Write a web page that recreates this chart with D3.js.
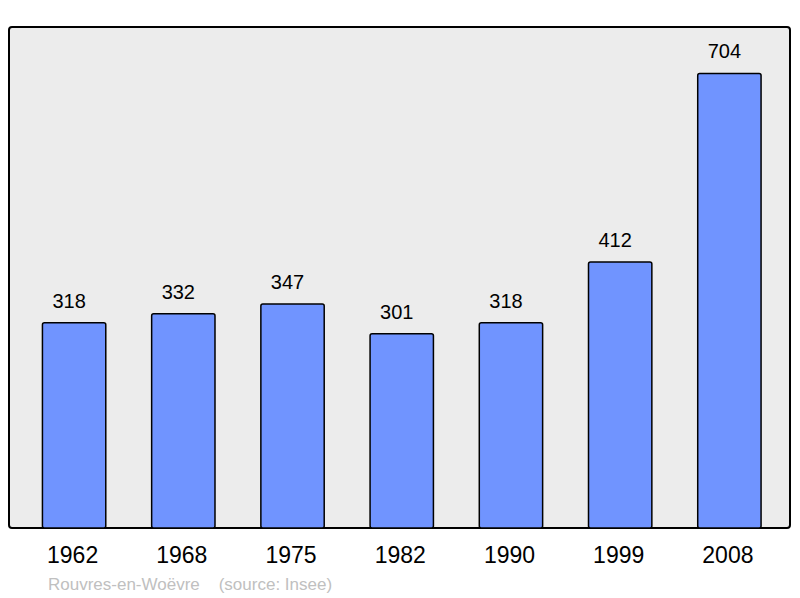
<!DOCTYPE html>
<html><head><meta charset="utf-8">
<script src="https://cdn.jsdelivr.net/npm/d3@7"></script>
<style>body{margin:0;background:#fff}svg{display:block}text{font-family:"Liberation Sans",Arial,sans-serif}</style>
</head><body>
<svg id="c" width="800" height="598"></svg>
<script>
const years = ["1962","1968","1975","1982","1990","1999","2008"];
const population = [318,332,347,301,318,412,704];
const commune = "Rouvres-en-Woëvre";
const source = "(source: Insee)";

(function(){
const svg = d3.select("#c");
const pl = 9, pr = 790, pt = 27, pb = 528;
const x = d3.scaleBand().domain(years).range([19.5, 784]).paddingInner(0.42).paddingOuter(0.21);
const y = d3.scaleLinear().domain([0, 776]).range([pb, pt]);

svg.append("rect").attr("x", pl).attr("y", pt).attr("width", pr-pl).attr("height", pb-pt)
  .attr("rx", 3).attr("fill", "#ececec").attr("stroke", "#000").attr("stroke-width", 2);

svg.selectAll(".bar").data(years).join("rect").attr("class","bar")
  .attr("x", d => x(d)).attr("width", x.bandwidth())
  .attr("y", (d,i) => y(population[i])).attr("height", (d,i) => pb - y(population[i]))
  .attr("rx", 2).attr("fill", "#7094ff").attr("stroke", "#000").attr("stroke-width", 1.5);

svg.selectAll(".val").data(years).join("text").attr("class","val")
  .attr("x", d => x(d) + x.bandwidth()/2 - 5).attr("y", (d,i) => y(population[i]) - 15)
  .attr("text-anchor","middle").attr("font-size", 20).attr("fill","#000")
  .text((d,i) => population[i]);

const xAxis = svg.append("g").attr("transform", `translate(0,${pb})`)
  .call(d3.axisBottom(x).tickSize(0).tickPadding(19));
xAxis.select(".domain").remove();
xAxis.selectAll("text").attr("font-size", 23).attr("fill","#000").attr("dx", -1.5)
  .attr("font-family", '"Liberation Sans",Arial,sans-serif');

svg.append("text").attr("x", 48).attr("y", 590).attr("font-size", 17).attr("fill", "#c0c0c0")
  .attr("xml:space","preserve").text(commune + "    " + source);
})();
</script>
</body></html>
